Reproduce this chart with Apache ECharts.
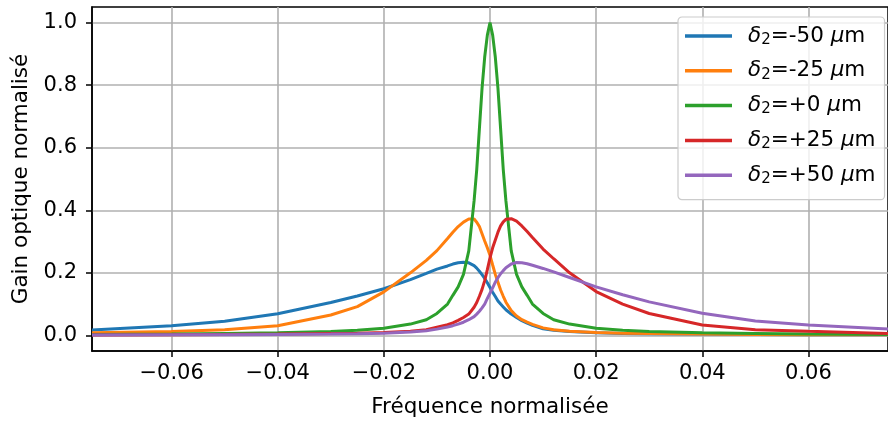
<!DOCTYPE html>
<html>
<head>
<meta charset="utf-8">
<script src="https://cdn.jsdelivr.net/npm/echarts@6/dist/echarts.min.js"></script>
<style>
html,body{margin:0;padding:0;background:#fff;}
#chart{width:888px;height:423px;}
</style>
</head>
<body>
<div id="chart"></div>
<script>
// ---- data ----
const xs = [-0.075,-0.06,-0.05,-0.04,-0.03,-0.025,-0.02,-0.015,-0.012,-0.01,-0.008,-0.007,-0.006,-0.005,-0.004,-0.003,-0.0025,-0.002,-0.0015,-0.001,-0.0005,0,0.0005,0.001,0.0015,0.002,0.0025,0.003,0.004,0.005,0.006,0.007,0.008,0.01,0.012,0.015,0.02,0.025,0.03,0.04,0.05,0.06,0.075];

const gainM50 = [0.017,0.031,0.045,0.069,0.105,0.126,0.149,0.178,0.198,0.212,0.222,0.228,0.232,0.234,0.232,0.223,0.215,0.205,0.194,0.182,0.168,0.153,0.138,0.124,0.11,0.1,0.091,0.082,0.068,0.057,0.047,0.039,0.032,0.021,0.016,0.012,0.008,0.006,0.005,0.004,0.003,0.002,0.002];
const gainM25 = [0.008,0.012,0.018,0.031,0.065,0.092,0.139,0.2,0.24,0.271,0.31,0.33,0.348,0.362,0.372,0.372,0.362,0.348,0.325,0.302,0.28,0.256,0.225,0.195,0.17,0.145,0.125,0.106,0.079,0.062,0.05,0.042,0.035,0.024,0.018,0.013,0.009,0.007,0.006,0.004,0.003,0.002,0.002];
const gainP0 = [0.003,0.004,0.006,0.008,0.012,0.016,0.023,0.036,0.05,0.07,0.1,0.128,0.155,0.195,0.27,0.43,0.53,0.66,0.79,0.89,0.96,1.0,0.96,0.89,0.79,0.66,0.53,0.43,0.27,0.195,0.155,0.128,0.1,0.07,0.05,0.036,0.023,0.016,0.012,0.008,0.006,0.004,0.003];
const gainP25 = [0.001,0.002,0.003,0.004,0.006,0.007,0.009,0.013,0.018,0.026,0.034,0.04,0.048,0.057,0.068,0.09,0.105,0.125,0.147,0.175,0.21,0.248,0.28,0.305,0.33,0.35,0.363,0.371,0.373,0.365,0.35,0.332,0.313,0.276,0.245,0.2,0.14,0.1,0.07,0.033,0.018,0.013,0.006];
const gainP50 = [0.001,0.002,0.002,0.003,0.004,0.005,0.007,0.011,0.015,0.02,0.027,0.031,0.036,0.042,0.05,0.06,0.068,0.077,0.088,0.1,0.118,0.135,0.152,0.17,0.185,0.197,0.207,0.216,0.228,0.233,0.232,0.229,0.224,0.214,0.203,0.185,0.155,0.13,0.107,0.071,0.046,0.033,0.02];

const deltaLabels = ['-50','-25','+0','+25','+50'];
const seriesValues = [gainM50, gainM25, gainP0, gainP25, gainP50];
const xTicks = [-0.06,-0.04,-0.02,0,0.02,0.04,0.06];
const yTicks = [0,0.2,0.4,0.6,0.8,1.0];
const colors = ['#1f77b4','#ff7f0e','#2ca02c','#d62728','#9467bd'];

const FONT = 'DejaVu Sans';
const names = deltaLabels.map(d => 'δ2=' + d + ' μm');

const series = seriesValues.map((vals, i) => ({
  name: names[i],
  type: 'line',
  data: xs.map((x, j) => [x, vals[j]]),
  showSymbol: false,
  symbol: 'none',
  smooth: false,
  clip: true,
  lineStyle: { width: 3, color: colors[i] },
  itemStyle: { color: colors[i] },
  z: 3 + i
}));

const chart = echarts.init(document.getElementById('chart'), null, { renderer: 'canvas' });
chart.setOption({
  animation: false,
  backgroundColor: '#fff',
  textStyle: { fontFamily: FONT },
  grid: {
    left: 92, top: 7, right: -8, bottom: 71,
    show: true, borderColor: '#000', borderWidth: 1.5, backgroundColor: 'transparent'
  },
  legend: {
    left: 678, top: 17, orient: 'vertical',
    padding: [8, 9, 13, 7],
    itemGap: 12.3,
    itemWidth: 47, itemHeight: 3.5,
    icon: 'rect',
    backgroundColor: 'rgba(255,255,255,0.8)',
    borderColor: '#cccccc', borderWidth: 1.2, borderRadius: 4,
    data: names,
    formatter: function (name) {
      const d = deltaLabels[names.indexOf(name)];
      return '{g|}{d|δ}{s|2}{t|=' + d + ' }{d|μ}{t|m}';
    },
    textStyle: {
      fontFamily: FONT, fontSize: 21.5, color: '#000',
      rich: {
        g: { width: 11, lineHeight: 23 },
        d: { fontFamily: FONT, fontSize: 21.5, fontStyle: 'italic', color: '#000', lineHeight: 23 },
        s: { fontFamily: FONT, fontSize: 15, color: '#000', lineHeight: 23, verticalAlign: 'bottom' },
        t: { fontFamily: FONT, fontSize: 21.5, color: '#000', lineHeight: 23 }
      }
    }
  },
  xAxis: {
    type: 'value', min: -0.075, max: 0.075,
    name: 'Fréquence normalisée', nameLocation: 'middle', nameGap: 45,
    nameTextStyle: { fontFamily: FONT, fontSize: 21.5, color: '#000' },
    axisLine: { show: true, onZero: false, lineStyle: { color: '#000', width: 1.5 } },
    axisTick: { show: true, length: 6, inside: false, lineStyle: { color: '#000', width: 1.5 }, customValues: xTicks },
    axisLabel: {
      customValues: xTicks, margin: 12, fontFamily: FONT, fontSize: 21, color: '#000',
      formatter: v => (Math.abs(v) < 1e-9 ? '0.00' : v.toFixed(2).replace('-', '\u2212'))
    },
    splitLine: { show: true, lineStyle: { color: '#b0b0b0', width: 1.6 } }
  },
  yAxis: {
    type: 'value', min: -0.05, max: 1.05,
    name: 'Gain optique normalisé', nameLocation: 'middle', nameGap: 58,
    nameTextStyle: { fontFamily: FONT, fontSize: 21.5, color: '#000' },
    axisLine: { show: true, onZero: false, lineStyle: { color: '#000', width: 1.5 } },
    axisTick: { show: true, length: 6, inside: false, lineStyle: { color: '#000', width: 1.5 }, customValues: yTicks },
    axisLabel: {
      customValues: yTicks, margin: 15, fontFamily: FONT, fontSize: 21, color: '#000',
      formatter: v => v.toFixed(1)
    },
    splitLine: { show: true, lineStyle: { color: '#b0b0b0', width: 1.6 } }
  },
  series: series
});
</script>
</body>
</html>
